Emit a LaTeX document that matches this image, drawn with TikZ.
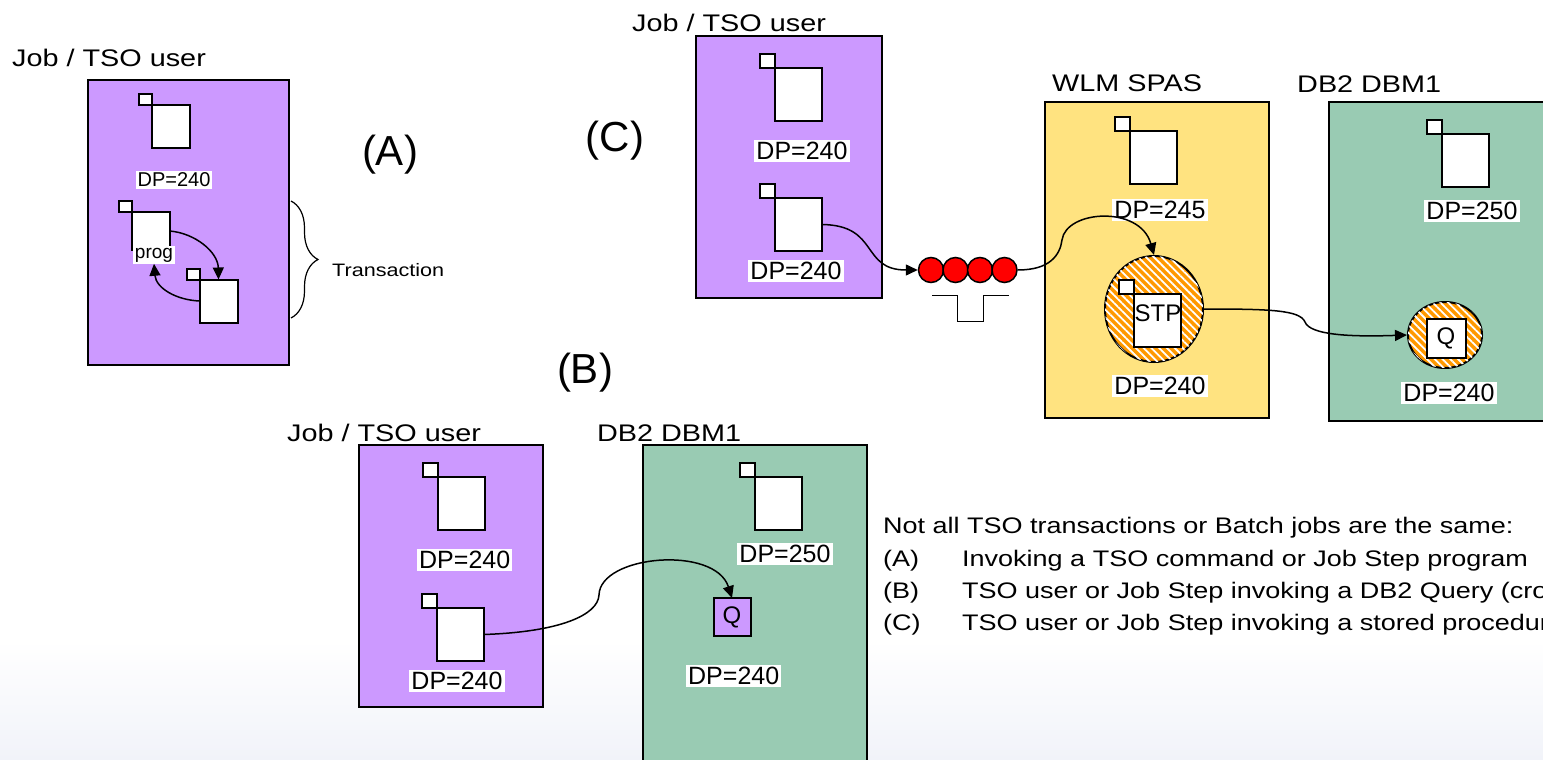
\documentclass[tikz,border=0pt]{standalone}
\usepackage{fontspec}
\setmainfont{Liberation Sans}
\newfontfamily\widesans[FakeStretch=1.2]{Liberation Sans}
\usepackage{xcolor}
\definecolor{jobPurple}{RGB}{204,153,255}
\definecolor{spasYellow}{RGB}{255,227,128}
\definecolor{dbmGreen}{RGB}{153,203,179}
\definecolor{queueRed}{RGB}{255,0,0}
\definecolor{hatchOrange}{RGB}{255,153,0}
\definecolor{fadeGray}{RGB}{241,243,249}
\usepackage{tikz}
\usetikzlibrary{shapes.geometric, arrows.meta, decorations.pathreplacing, patterns.meta}

\begin{document}
\begin{tikzpicture}[x=1pt, y=-1pt,
  proc/.style={rectangle, draw=black, line width=2pt, inner sep=0pt, outer sep=0pt},
  pane/.style={rectangle, draw=black, fill=white, line width=2pt, inner sep=0pt, outer sep=0pt,
               minimum width=47pt, minimum height=53pt},
  tab/.style={pane, minimum width=15pt, minimum height=14pt, anchor=south east},
  paneA/.style={pane, minimum width=38pt, minimum height=43pt},
  tabA/.style={tab, minimum width=13pt, minimum height=11pt},
  dp/.style={fill=white, inner sep=2pt, font=\fontsize{25}{28}\selectfont},
  dpA/.style={dp, font=\fontsize{20}{24}\selectfont},
  ttl/.style={anchor=west, inner sep=0pt, font=\widesans\fontsize{24}{28}\selectfont},
  tag/.style={inner sep=0pt, font=\fontsize{42}{48}\selectfont},
  note/.style={anchor=west, inner sep=0pt, font=\widesans\fontsize{22.5}{27}\selectfont},
  flow/.style={-{Triangle[length=12pt,width=11pt]}, line width=1.5pt},
  dot/.style={circle, draw=black, fill=queueRed, line width=1.5pt, minimum size=25pt, inner sep=0pt},
  hatch/.style={ellipse, draw=black, line width=2pt, inner sep=0pt, fill=hatchOrange,
                postaction={pattern={Lines[angle=-45,distance=5.5pt,line width=1.8pt]}, pattern color=white}},
]
  \useasboundingbox (0,0) rectangle (1543,760);
  \clip (0,0) rectangle (1543,760);

  % Background fade
  \fill[top color=white, bottom color=fadeGray] (0,640) rectangle (1543,760);

  % Address spaces
  \node[proc, fill=jobPurple, minimum width=201pt, minimum height=285pt] (jobA) at (188.5,222.5) {};
  \node[proc, fill=jobPurple, minimum width=186pt, minimum height=262pt] (jobC) at (789,167) {};
  \node[proc, fill=spasYellow, minimum width=224pt, minimum height=316pt] (wlmC) at (1157,260) {};
  \node[proc, fill=dbmGreen, minimum width=260pt, minimum height=319pt] (dbmC) at (1459,261.5) {};
  \node[proc, fill=jobPurple, minimum width=184pt, minimum height=262pt] (jobB) at (451,576) {};
  \node[proc, fill=dbmGreen, minimum width=224pt, minimum height=405pt] (dbmB) at (755,647.5) {};

  % Titles
  \node[ttl] (ttlA) at (12,58) {Job / TSO user};
  \node[ttl] (ttlC) at (632,23) {Job / TSO user};
  \node[ttl] (ttlW) at (1052,83) {WLM SPAS};
  \node[ttl] (ttlD) at (1297,84) {DB2 DBM1};
  \node[ttl] (ttlB) at (287,433) {Job / TSO user};
  \node[ttl] (ttlE) at (597,433) {DB2 DBM1};

  \node[tag] (tagA) at (390,155) {(A)};
  \node[tag] (tagC) at (615,141) {(C)};
  \node[tag] (tagB) at (585,373) {(B)};

  % Panel A
  \node[paneA] (a1) at (171,126.5) {};
  \node[tabA] at (a1.north west) {};
  \node[paneA, minimum height=38pt] (a2) at (150.5,231) {};
  \node[tabA] at (a2.north west) {};
  \node[paneA] (a3) at (218.5,301) {};
  \node[tabA] at (a3.north west) {};
  \node[dpA] (dpA1) at (174,180) {DP=240};
  \node[fill=white, inner sep=1.5pt, font=\fontsize{19}{22}\selectfont] (prog) at (154,255) {prog};

  \draw[flow] (a2.east) .. controls (195,233) and (218,252) .. (a3.north);
  \draw[flow] (a3.west) .. controls (176,300) and (156,288) .. (prog.south);

  \coordinate (brTop) at (291,201);
  \coordinate (brBot) at (291,318);
  \draw[line width=1.2pt, decorate, decoration={brace, amplitude=27pt}] (brTop) -- (brBot);
  \node[anchor=west, inner sep=0pt, font=\widesans\fontsize{18}{22}\selectfont] (trans) at (332,270) {Transaction};

  % Panel C
  \foreach \n/\p in {c1/{798.5,94.5}, c2/{798,224.5}, w1/{1153.5,157.5}, d1/{1465,160.5}} {
    \node[pane] (\n) at (\p) {};
    \node[tab] at (\n.north west) {};
  }
  \node[dp] (dpC1) at (802,151) {DP=240};
  \node[dp] (dpC2) at (796,271) {DP=240};
  \node[dp] (dpW1) at (1160,210) {DP=245};
  \node[dp] (dpD1) at (1472,211) {DP=250};

  % Queue
  \foreach \i/\x in {1/931, 2/955.5, 3/980, 4/1004.5} {
    \node[dot] (q\i) at (\x,270) {};
  }
  \draw[line width=1pt] (932,295) -| (957,321) -| (983,295) -- (1009,295);

  % Stored procedure and query
  \node[hatch, minimum width=98pt, minimum height=106pt] (stpRing) at (1154,309) {};
  \node[pane] (stp) at (1157.5,320.5) {};
  \node[tab] at (stp.north west) {};
  \node[inner sep=0pt, font=\fontsize{24}{28}\selectfont] (stpLbl) at (1158,313) {STP};
  \node[dp] (dpW2) at (1160,386) {DP=240};

  \node[hatch, minimum width=74pt, minimum height=66pt] (qRing) at (1445,335) {};
  \node[pane, minimum width=39pt, minimum height=39pt, font=\fontsize{24}{28}\selectfont] (qC) at (1446,338) {Q};
  \node[dp] (dpD2) at (1449,393) {DP=240};

  \draw[flow] (c2.east) .. controls (880,225) and (860,270) .. (q1.west);
  \draw[flow] (q4.east) .. controls (1050,270) and (1060,255) .. (1062,240)
                        .. controls (1066,210) and (1140,205) .. (stpRing.north);
  \draw[flow] (stpRing.east) .. controls (1270,309) and (1300,310) .. (1305,322)
                             .. controls (1310,335) and (1350,337) .. (qRing.west);

  % Panel B
  \foreach \n/\p in {b1/{461,503}, b2/{460,634.5}, e1/{778.5,503}} {
    \node[pane] (\n) at (\p) {};
    \node[tab] at (\n.north west) {};
  }
  \node[dp] (dpB1) at (464.7,560) {DP=240};
  \node[dp] (dpB2) at (457,681) {DP=240};
  \node[dp] (dpE1) at (785,554) {DP=250};
  \node[pane, fill=jobPurple, minimum width=37pt, minimum height=38pt, font=\fontsize{24}{28}\selectfont] (qB) at (732,617) {Q};
  \node[dp] (dpE2) at (733.7,676) {DP=240};

  \draw[flow] (b2.east) .. controls (560,632) and (598,615) .. (599,595)
                        .. controls (600,555) and (715,545) .. (qB.north);

  % Notes
  \node[note] (noteHead) at (883,528) {Not all TSO transactions or Batch jobs are the same:};
  \node[note] (noteA) at (883,561) {(A)};
  \node[note] (textA) at (962,561) {Invoking a TSO command or Job Step program};
  \node[note] (noteB) at (883,593) {(B)};
  \node[note] (textB) at (962,593) {TSO user or Job Step invoking a DB2 Query (cros};
  \node[note] (noteC) at (883,625) {(C)};
  \node[note] (textC) at (962,625) {TSO user or Job Step invoking a stored procedure};

\end{tikzpicture}
\end{document}
